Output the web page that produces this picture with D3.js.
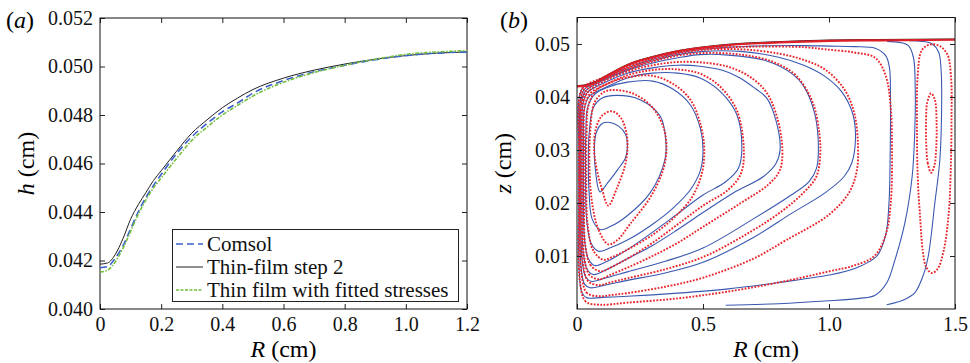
<!DOCTYPE html>
<html>
<head>
<meta charset="utf-8">
<script src="https://cdn.jsdelivr.net/npm/d3@7"></script>
</head>
<body style="margin:0;background:#fff">
<div id="chart"></div>
<script>
/* Panel (a): film height h(R) */
const aR = [0, 0.025, 0.05, 0.075, 0.1, 0.125, 0.15, 0.175, 0.2, 0.25, 0.3, 0.35, 0.4, 0.45, 0.5, 0.6, 0.7, 0.8, 0.9, 1.0, 1.1, 1.2]
const aComsol = [0.0417, 0.04175, 0.0421, 0.0426, 0.0433, 0.0440, 0.0446, 0.0451, 0.04555, 0.0464, 0.0471, 0.04765, 0.04813, 0.0485, 0.0489, 0.04942, 0.04978, 0.05005, 0.05028, 0.05045, 0.05055, 0.0506]
const aThinFilm = [0.04185, 0.0419, 0.04225, 0.0429, 0.04370, 0.0443, 0.0448, 0.0453, 0.0457, 0.0465, 0.04725, 0.0478, 0.0483, 0.0487, 0.04905, 0.04952, 0.04985, 0.0501, 0.0503, 0.05045, 0.05055, 0.0506]
const aFitted = [0.04152, 0.0416, 0.04195, 0.0425, 0.0432, 0.0439, 0.0445, 0.0450, 0.0454, 0.0462, 0.04695, 0.0475, 0.0480, 0.0484, 0.04878, 0.04935, 0.04975, 0.05005, 0.0503, 0.0505, 0.0506, 0.05065]
const aXTicks = [0, 0.2, 0.4, 0.6, 0.8, 1.0, 1.2]
const aYTicks = [0.040, 0.042, 0.044, 0.046, 0.048, 0.050, 0.052]
const legendLabels = ["Comsol", "Thin-film step 2", "Thin film with fitted stresses"]

/* Panel (b): free surface and streamlines [R, z] */
const bSurfR = [0, 0.05, 0.1, 0.15, 0.2, 0.3, 0.4, 0.5, 0.6, 0.8, 1.0, 1.2, 1.5]
const bSurfZ = [0.0420, 0.0423, 0.0435, 0.0448, 0.0460, 0.0475, 0.0486, 0.0493, 0.0498, 0.0503, 0.0506, 0.0507, 0.0508]
const bXTicks = [0, 0.5, 1.0, 1.5]
const bYTicks = [0.01, 0.02, 0.03, 0.04, 0.05]

const blue1 = [[0.091,0.0221],[0.076,0.0250],[0.069,0.0300],[0.076,0.0332],[0.100,0.0350],[0.131,0.0352],[0.165,0.0345],[0.192,0.0330],[0.200,0.0305],[0.192,0.0285],[0.160,0.0262],[0.120,0.0237]]
const blue2 = [[0.091,0.0150],[0.060,0.0170],[0.048,0.0220],[0.045,0.0280],[0.048,0.0330],[0.065,0.0380],[0.100,0.0398],[0.157,0.0403],[0.250,0.0395],[0.330,0.0364],[0.352,0.0320],[0.349,0.0282],[0.290,0.0219],[0.197,0.0175],[0.130,0.0155]]
const blue3 = [[0.085,0.0109],[0.055,0.0125],[0.038,0.0170],[0.034,0.0250],[0.035,0.0330],[0.042,0.0380],[0.070,0.0405],[0.120,0.0418],[0.200,0.0428],[0.300,0.0430],[0.380,0.0415],[0.450,0.0385],[0.490,0.0340],[0.500,0.0300],[0.490,0.0262],[0.450,0.0225],[0.380,0.0190],[0.300,0.0160],[0.200,0.0130],[0.130,0.0115]]
const blue4 = [[0.071,0.0082],[0.045,0.0095],[0.030,0.0130],[0.026,0.0200],[0.026,0.0300],[0.030,0.0380],[0.050,0.0402],[0.100,0.0415],[0.200,0.0436],[0.300,0.0445],[0.400,0.0445],[0.488,0.0436],[0.567,0.0411],[0.634,0.0367],[0.654,0.0301],[0.640,0.0265],[0.590,0.0240],[0.500,0.0215],[0.400,0.0180],[0.300,0.0145],[0.200,0.0112],[0.120,0.0090]]
const blue5 = [[0.065,0.0065],[0.040,0.0075],[0.024,0.0110],[0.020,0.0200],[0.020,0.0300],[0.023,0.0385],[0.040,0.0408],[0.100,0.0425],[0.200,0.0445],[0.300,0.0455],[0.400,0.0460],[0.488,0.0458],[0.580,0.0450],[0.647,0.0436],[0.710,0.0415],[0.753,0.0398],[0.790,0.0355],[0.806,0.0301],[0.790,0.0275],[0.740,0.0250],[0.620,0.0219],[0.500,0.0182],[0.400,0.0150],[0.300,0.0120],[0.200,0.0095],[0.120,0.0075]]
const blue6 = [[0.058,0.0052],[0.035,0.0060],[0.020,0.0095],[0.015,0.0200],[0.015,0.0300],[0.018,0.0390],[0.035,0.0412],[0.100,0.0430],[0.200,0.0450],[0.300,0.0464],[0.400,0.0474],[0.488,0.0480],[0.600,0.0479],[0.753,0.0468],[0.850,0.0445],[0.900,0.0420],[0.944,0.0367],[0.958,0.0301],[0.950,0.0265],[0.920,0.0240],[0.850,0.0215],[0.700,0.0170],[0.500,0.0115],[0.350,0.0090],[0.200,0.0070],[0.110,0.0058]]
const blue7 = [[0.052,0.0040],[0.030,0.0047],[0.016,0.0080],[0.011,0.0200],[0.011,0.0300],[0.014,0.0395],[0.030,0.0415],[0.100,0.0432],[0.200,0.0452],[0.300,0.0468],[0.400,0.0480],[0.500,0.0486],[0.650,0.0486],[0.800,0.0475],[0.900,0.0460],[0.984,0.0439],[1.050,0.0410],[1.095,0.0367],[1.105,0.0320],[1.090,0.0275],[1.060,0.0250],[0.984,0.0219],[0.850,0.0180],[0.700,0.0135],[0.500,0.0088],[0.350,0.0068],[0.200,0.0054],[0.110,0.0045]]
const blue8 = [[0.040,0.0021],[0.020,0.0030],[0.009,0.0070],[0.007,0.0200],[0.007,0.0300],[0.009,0.0400],[0.025,0.0418],[0.100,0.0434],[0.200,0.0455],[0.300,0.0471],[0.400,0.0483],[0.500,0.0490],[0.700,0.0496],[0.900,0.0497],[1.000,0.0496],[1.100,0.0495],[1.183,0.0492],[1.225,0.0478],[1.240,0.0455],[1.244,0.0400],[1.243,0.0300],[1.238,0.0200],[1.225,0.0140],[1.190,0.0100],[1.110,0.0078],[1.000,0.0064],[0.800,0.0050],[0.600,0.0038],[0.400,0.0030],[0.200,0.0024],[0.100,0.0022]]
const blueOpen1 = [[0.590,0.0007],[0.800,0.0010],[0.984,0.0015],[1.120,0.0020],[1.183,0.0026],[1.230,0.0050],[1.260,0.0090],[1.300,0.0160],[1.330,0.0250],[1.340,0.0330],[1.342,0.0420],[1.335,0.0475],[1.315,0.0497],[1.280,0.0503],[1.230,0.0505]]
const blueOpen2 = [[1.229,0.0008],[1.300,0.0018],[1.341,0.0031],[1.375,0.0065],[1.394,0.0100],[1.420,0.0200],[1.440,0.0282],[1.447,0.0380],[1.445,0.0450],[1.435,0.0485],[1.410,0.0500],[1.370,0.0505],[1.320,0.0506]]

const red1 = [[0.124,0.0195],[0.100,0.0225],[0.080,0.0260],[0.068,0.0300],[0.075,0.0340],[0.100,0.0365],[0.140,0.0373],[0.175,0.0360],[0.197,0.0330],[0.200,0.0300],[0.190,0.0270],[0.160,0.0230]]
const red2 = [[0.124,0.0122],[0.085,0.0150],[0.060,0.0200],[0.050,0.0260],[0.052,0.0330],[0.070,0.0390],[0.110,0.0410],[0.160,0.0413],[0.230,0.0405],[0.300,0.0380],[0.345,0.0340],[0.355,0.0300],[0.340,0.0260],[0.290,0.0210],[0.210,0.0160],[0.160,0.0130]]
const red3 = [[0.104,0.0093],[0.065,0.0110],[0.042,0.0160],[0.037,0.0250],[0.038,0.0330],[0.046,0.0385],[0.075,0.0412],[0.120,0.0425],[0.200,0.0437],[0.300,0.0440],[0.380,0.0425],[0.450,0.0395],[0.492,0.0345],[0.505,0.0300],[0.495,0.0255],[0.455,0.0210],[0.380,0.0170],[0.300,0.0140],[0.200,0.0112],[0.140,0.0098]]
const red4 = [[0.095,0.0071],[0.055,0.0082],[0.033,0.0120],[0.028,0.0200],[0.028,0.0300],[0.032,0.0385],[0.055,0.0408],[0.100,0.0420],[0.200,0.0441],[0.300,0.0451],[0.400,0.0452],[0.488,0.0444],[0.567,0.0420],[0.634,0.0375],[0.662,0.0300],[0.650,0.0255],[0.600,0.0225],[0.500,0.0195],[0.400,0.0160],[0.300,0.0125],[0.200,0.0095],[0.140,0.0080]]
const red5 = [[0.090,0.0056],[0.050,0.0064],[0.028,0.0100],[0.022,0.0200],[0.022,0.0300],[0.025,0.0390],[0.045,0.0410],[0.100,0.0428],[0.200,0.0448],[0.300,0.0460],[0.400,0.0466],[0.500,0.0465],[0.600,0.0457],[0.680,0.0440],[0.750,0.0410],[0.795,0.0360],[0.815,0.0300],[0.805,0.0262],[0.760,0.0235],[0.650,0.0200],[0.500,0.0155],[0.400,0.0125],[0.300,0.0100],[0.200,0.0078],[0.130,0.0064]]
const red6 = [[0.090,0.0045],[0.045,0.0052],[0.024,0.0085],[0.017,0.0200],[0.017,0.0300],[0.020,0.0392],[0.040,0.0414],[0.100,0.0432],[0.200,0.0452],[0.300,0.0467],[0.400,0.0478],[0.500,0.0483],[0.650,0.0480],[0.780,0.0466],[0.870,0.0440],[0.935,0.0390],[0.962,0.0330],[0.965,0.0290],[0.950,0.0250],[0.900,0.0220],[0.800,0.0180],[0.650,0.0135],[0.500,0.0098],[0.350,0.0075],[0.200,0.0058],[0.130,0.0050]]
const red7 = [[0.090,0.0024],[0.040,0.0030],[0.018,0.0065],[0.012,0.0200],[0.012,0.0300],[0.015,0.0397],[0.032,0.0417],[0.100,0.0434],[0.200,0.0454],[0.300,0.0470],[0.400,0.0482],[0.500,0.0489],[0.650,0.0490],[0.800,0.0482],[0.900,0.0470],[0.984,0.0452],[1.060,0.0415],[1.100,0.0370],[1.115,0.0310],[1.110,0.0260],[1.080,0.0220],[1.000,0.0178],[0.830,0.0130],[0.700,0.0095],[0.500,0.0059],[0.350,0.0042],[0.200,0.0030],[0.130,0.0026]]
const red8 = [[0.090,0.0008],[0.035,0.0014],[0.012,0.0050],[0.008,0.0200],[0.008,0.0300],[0.010,0.0402],[0.028,0.0420],[0.100,0.0436],[0.200,0.0457],[0.300,0.0473],[0.400,0.0485],[0.500,0.0491],[0.700,0.0495],[0.900,0.0494],[0.984,0.0490],[1.100,0.0484],[1.183,0.0474],[1.225,0.0440],[1.245,0.0380],[1.250,0.0300],[1.245,0.0200],[1.225,0.0140],[1.180,0.0100],[1.100,0.0082],[1.000,0.0071],[0.800,0.0050],[0.600,0.0033],[0.400,0.0020],[0.200,0.0012]]
const red9 = [[1.407,0.0068],[1.385,0.0080],[1.372,0.0110],[1.362,0.0170],[1.352,0.0250],[1.349,0.0350],[1.352,0.0440],[1.368,0.0488],[1.400,0.0499],[1.440,0.0496],[1.470,0.0480],[1.484,0.0440],[1.486,0.0350],[1.483,0.0260],[1.475,0.0180],[1.455,0.0110],[1.430,0.0075]]
const red10 = [[1.405,0.0257],[1.392,0.0275],[1.386,0.0310],[1.385,0.0350],[1.390,0.0390],[1.405,0.0407],[1.420,0.0395],[1.427,0.0350],[1.425,0.0300],[1.418,0.0270]]

const blueLoops = [blue1, blue2, blue3, blue4, blue5, blue6, blue7, blue8]
const blueOpen = [blueOpen1, blueOpen2]
const redLoops = [red1, red2, red3, red4, red5, red6, red7, red8, red9, red10]

const width = 970
const height = 363
const serif = '"Liberation Serif"'
const blue = "#3a58b0"
const red = "#e8262c"

const svg = d3.select("#chart").append("svg")
    .attr("width", width)
    .attr("height", height)
    .style("display", "block")
    .style("font-family", serif)

/* draws a framed panel with inward ticks on all four sides */
const drawFrame = (x, y, xTicks, yTicks, xFmt, yFmt) => {
  const [x0, x1] = x.range()
  const [y0, y1] = y.range()
  const g = svg.append("g")

  g.append("g")
      .attr("transform", `translate(0,${y0})`)
      .call(d3.axisBottom(x).tickValues(xTicks).tickFormat(xFmt).tickSizeInner(-5).tickSizeOuter(0).tickPadding(8))
  g.append("g")
      .attr("transform", `translate(0,${y1})`)
      .call(d3.axisTop(x).tickValues(xTicks).tickFormat("").tickSizeInner(-5).tickSizeOuter(0))
  g.append("g")
      .attr("transform", `translate(${x0},0)`)
      .call(d3.axisLeft(y).tickValues(yTicks).tickFormat(yFmt).tickSizeInner(-5).tickSizeOuter(0).tickPadding(7))
  g.append("g")
      .attr("transform", `translate(${x1},0)`)
      .call(d3.axisRight(y).tickValues(yTicks).tickFormat("").tickSizeInner(-5).tickSizeOuter(0))

  g.selectAll("g").attr("font-family", null).attr("font-size", 20)
  g.selectAll(".domain").remove()
  g.selectAll(".tick line").attr("stroke", "#222")
  g.selectAll(".tick text").attr("fill", "#111").style("font-family", serif)

  g.append("rect")
      .attr("x", x0)
      .attr("y", y1)
      .attr("width", x1 - x0)
      .attr("height", y0 - y1)
      .attr("fill", "none")
      .attr("stroke", "#111")
      .attr("stroke-width", 1)
  return g
}

const axisLabels = (x, y, xName, yName, tag, tagX) => {
  const [x0, x1] = x.range()
  const [y0, y1] = y.range()
  const xl = svg.append("text")
      .attr("x", (x0 + x1) / 2)
      .attr("y", 357)
      .attr("text-anchor", "middle")
      .attr("font-size", 24)
      .style("font-family", serif)
  xl.append("tspan").attr("font-style", "italic").text(xName)
  xl.append("tspan").text(" (cm)")

  const yl = svg.append("text")
      .attr("transform", `translate(${x0 - 66},${(y0 + y1) / 2}) rotate(-90)`)
      .attr("text-anchor", "middle")
      .attr("font-size", 24)
      .style("font-family", serif)
  yl.append("tspan").attr("font-style", "italic").text(yName)
  yl.append("tspan").text(" (cm)")

  const t = svg.append("text")
      .attr("x", tagX)
      .attr("y", 28)
      .attr("font-size", 24)
      .style("font-family", serif)
  t.append("tspan").text("(")
  t.append("tspan").attr("font-style", "italic").text(tag)
  t.append("tspan").text(")")
}

/* ---------- panel (a) ---------- */
const xa = d3.scaleLinear().domain([0, 1.2]).range([100, 467])
const ya = d3.scaleLinear().domain([0.040, 0.052]).range([309, 18])

const fmtA = d => d === 0 ? "0" : d3.format(".1f")(d)
drawFrame(xa, ya, aXTicks, aYTicks, fmtA, d3.format(".3f"))
axisLabels(xa, ya, "R", "h", "a", 6)

const lineA = values => d3.line()
    .x((d, i) => xa(aR[i]))
    .y(d => ya(d))
    .curve(d3.curveMonotoneX)(values)

const aSeries = [
  {values: aThinFilm, color: "#222", width: 1, dash: null},
  {values: aComsol, color: "#3a5fcd", width: 1.6, dash: "7,4"},
  {values: aFitted, color: "#74bf3f", width: 1.6, dash: "4,1.5,1.5,1.5"},
]
aSeries.forEach(s => {
  svg.append("path")
      .attr("d", lineA(s.values))
      .attr("fill", "none")
      .attr("stroke", s.color)
      .attr("stroke-width", s.width)
      .attr("stroke-dasharray", s.dash)
})

// legend
const legend = svg.append("g")
legend.append("rect")
    .attr("x", 172.5)
    .attr("y", 229.5)
    .attr("width", 286)
    .attr("height", 72)
    .attr("fill", "#fff")
    .attr("stroke", "#222")
    .attr("stroke-width", 1)
const legendStyles = [aSeries[1], aSeries[0], aSeries[2]]
legendLabels.forEach((label, i) => {
  const yy = 244 + i * 23
  legend.append("line")
      .attr("x1", 176)
      .attr("x2", 203)
      .attr("y1", yy)
      .attr("y2", yy)
      .attr("stroke", legendStyles[i].color)
      .attr("stroke-width", legendStyles[i].width)
      .attr("stroke-dasharray", i === 2 ? "3,1.5" : legendStyles[i].dash)
  legend.append("text")
      .attr("x", 207)
      .attr("y", yy + 6.5)
      .attr("font-size", 21)
      .attr("fill", "#111")
      .style("font-family", serif)
      .text(label)
})

/* ---------- panel (b) ---------- */
const xb = d3.scaleLinear().domain([0, 1.5]).range([577, 955])
const yb = d3.scaleLinear().domain([0, 0.055]).range([309, 17.5])

svg.append("clipPath")
    .attr("id", "clip-b")
  .append("rect")
    .attr("x", 577)
    .attr("y", 17.5)
    .attr("width", 378)
    .attr("height", 291.5)

const plotB = svg.append("g").attr("clip-path", "url(#clip-b)")

const closedLine = d3.line()
    .x(d => xb(d[0]))
    .y(d => yb(d[1]))
    .curve(d3.curveCatmullRomClosed.alpha(0.5))
const openLine = d3.line()
    .x(d => xb(d[0]))
    .y(d => yb(d[1]))
    .curve(d3.curveCatmullRom.alpha(0.5))

blueLoops.forEach(pts => {
  plotB.append("path")
      .attr("d", closedLine(pts))
      .attr("fill", "none")
      .attr("stroke", blue)
      .attr("stroke-width", 1.1)
})
blueOpen.forEach(pts => {
  plotB.append("path")
      .attr("d", openLine(pts))
      .attr("fill", "none")
      .attr("stroke", blue)
      .attr("stroke-width", 1.1)
})
redLoops.forEach(pts => {
  plotB.append("path")
      .attr("d", closedLine(pts))
      .attr("fill", "none")
      .attr("stroke", red)
      .attr("stroke-width", 1.9)
      .attr("stroke-dasharray", "1.8,1.5")
})

// free surface
const surf = d3.line()
    .x((d, i) => xb(bSurfR[i]))
    .y(d => yb(d))
    .curve(d3.curveMonotoneX)
plotB.append("path")
    .attr("d", surf(bSurfZ))
    .attr("fill", "none")
    .attr("stroke", "#222")
    .attr("stroke-width", 1)
    .attr("transform", "translate(0,-0.8)")
plotB.append("path")
    .attr("d", surf(bSurfZ))
    .attr("fill", "none")
    .attr("stroke", "#dc1f26")
    .attr("stroke-width", 2.2)

const fmtB = d => d === 0 ? "0" : d3.format(".1f")(d)
drawFrame(xb, yb, bXTicks, bYTicks, fmtB, d3.format(".2f"))
axisLabels(xb, yb, "R", "z", "b", 500)
</script>
</body>
</html>
